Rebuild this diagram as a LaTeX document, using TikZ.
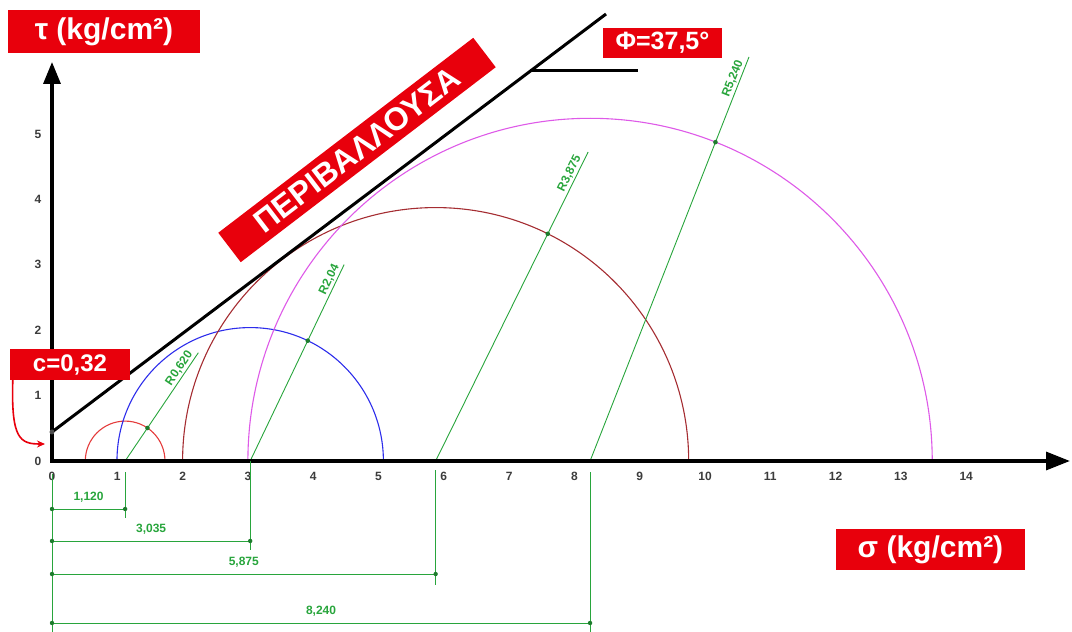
\documentclass[tikz,border=0pt]{standalone}
\usepackage{fontspec}
\setmainfont{Liberation Sans}
\usetikzlibrary{arrows.meta}
\definecolor{boxred}{RGB}{232,0,12}
\definecolor{dimgreen}{RGB}{40,165,60}
\definecolor{cred}{RGB}{228,60,60}
\definecolor{cblue}{RGB}{45,45,235}
\definecolor{cbrown}{RGB}{165,45,50}
\definecolor{cmag}{RGB}{222,90,232}
\definecolor{ticktext}{RGB}{60,60,60}
\begin{document}
\begin{tikzpicture}[x=65.3pt,y=65.4pt,
  redlbl/.style={fill=boxred,text=white,inner sep=0pt,anchor=center},
  ticklbl/.style={font=\fontsize{12}{12}\selectfont\bfseries,text=ticktext,inner sep=0pt},
  axisline/.style={line width=3.4pt,line join=miter},
  envline/.style={line width=3pt,black},
  circ/.style={line width=1.1pt},
  gline/.style={dimgreen,line width=0.9pt},
  rlbl/.style={sloped,above,inner sep=1.5pt,text=dimgreen,font=\fontsize{12}{12}\selectfont\bfseries},
  dimline/.style={dimgreen,line width=0.9pt},
  dimlbl/.style={text=dimgreen,font=\fontsize{12}{12}\selectfont\bfseries,inner sep=0pt,midway,yshift=12pt},
  gdot/.style={fill=dimgreen!75!black}]
\useasboundingbox (-52pt,-171pt) rectangle (1020pt,461pt);

% circle centres
\coordinate (c1) at (1.12,0);
\coordinate (c2) at (3.035,0);
\coordinate (c3) at (5.875,0);
\coordinate (c4) at (8.24,0);

% Mohr circles
\draw[circ,cred]   (c1) ++(0.61,0)  arc[start angle=0,end angle=180,radius=0.61];
\draw[circ,cblue]  (c2) ++(2.04,0)  arc[start angle=0,end angle=180,radius=2.04];
\draw[circ,cbrown] (c3) ++(3.875,0) arc[start angle=0,end angle=180,radius=3.875];
\draw[circ,cmag]   (c4) ++(5.24,0)  arc[start angle=0,end angle=180,radius=5.24];

% radius leader lines
\draw[gline] (c1) -- ++(55.9:2.0) coordinate (r1) node[rlbl,pos=0.82] {R0,620};
\draw[gline] (c2) -- ++(64.4:3.33) coordinate (r2) node[rlbl,pos=0.91] {R2,04};
\draw[gline] (c3) -- ++(63.7:5.27) coordinate (r3) node[rlbl,pos=0.92] {R3,875};
\draw[gline] (c4) -- ++(68.5:6.64) coordinate (r4) node[rlbl,pos=0.94] {R5,240};
\fill[gdot] (c1) ++(55.9:0.61) circle[radius=2.3pt];
\fill[gdot] (c2) ++(64.4:2.04) circle[radius=2.3pt];
\fill[gdot] (c3) ++(63.7:3.875) circle[radius=2.3pt];
\fill[gdot] (c4) ++(68.5:5.24) circle[radius=2.3pt];

% axes
\draw[axisline,{Triangle[length=22pt,width=17pt]}-{Triangle[length=24pt,width=18pt]}]
  (0,399pt) coordinate (ytip) -- (0,0) coordinate (orig) -- (1018pt,0) coordinate (xtip);

% tick labels
\foreach \i in {0,...,14} \node[ticklbl] (xt\i) at (\i,-15pt) {\i};
\foreach \i in {0,...,5} \node[ticklbl] (yt\i) at (-14pt,\i) {\i};

% envelope
\coordinate (e0) at (0,29pt);
\coordinate (e1) at (554pt,447pt);
\draw[envline] (e0) -- (e1);
\coordinate (a0) at (478pt,390pt);
\coordinate (a1) at (586pt,390pt);
\draw[envline] (a0) -- (a1);
\fill[black!70] (e0) circle[radius=2.5pt];

% dimension lines
\draw[dimline] (0,-0.2) -- (0,-2.62);
\draw[dimline] (1.12,-0.17) -- (1.12,-0.87);
\draw[dimline] (3.035,0) -- (3.035,-1.36);
\draw[dimline] (5.875,-0.14) -- (5.875,-1.9);
\draw[dimline] (8.24,-0.17) -- (8.24,-2.62);
\draw[dimline] (0,-0.734) coordinate (d1a) -- node[dimlbl] (l1) {1,120} (1.12,-0.734) coordinate (d1b);
\draw[dimline] (0,-1.223) coordinate (d2a) -- node[dimlbl] (l2) {3,035} (3.035,-1.223) coordinate (d2b);
\draw[dimline] (0,-1.728) coordinate (d3a) -- node[dimlbl] (l3) {5,875} (5.875,-1.728) coordinate (d3b);
\draw[dimline] (0,-2.477) coordinate (d4a) -- node[dimlbl] (l4) {8,240} (8.24,-2.477) coordinate (d4b);
\foreach \p in {d1a,d1b,d2a,d2b,d3a,d3b,d4a,d4b} \fill[gdot] (\p) circle[radius=2.2pt];

% red labels
\node[redlbl,minimum width=192pt,minimum height=43pt,font=\fontsize{30}{30}\selectfont\bfseries]
  (taulbl) at (52pt,429.5pt) {τ (kg/cm²)};
\node[redlbl,minimum width=189pt,minimum height=41pt,font=\fontsize{30}{30}\selectfont\bfseries]
  (siglbl) at (878.5pt,-88.5pt) {σ (kg/cm²)};
\node[redlbl,minimum width=119pt,minimum height=30pt,font=\fontsize{25}{25}\selectfont\bfseries]
  (philbl) at (610.5pt,418pt) {Φ=37,5°};
\node[redlbl,minimum width=120pt,minimum height=31pt,font=\fontsize{24}{24}\selectfont\bfseries]
  (clbl) at (18pt,96.5pt) {c=0,32};
\node[redlbl,minimum width=321pt,minimum height=37pt,rotate=37.4,font=\fontsize{32}{32}\selectfont\bfseries]
  (envlbl) at (305pt,311pt) {ΠΕΡΙΒΑΛΛΟΥΣΑ};

% c arrow
\coordinate (carr) at (-7pt,17pt);
\draw[boxred,line width=1.6pt,-{Stealth[length=8pt,width=7pt]}]
  ([xshift=3pt]clbl.south west) .. controls (-41pt,22pt) and (-32pt,17pt) .. (carr);
\end{tikzpicture}
\end{document}
